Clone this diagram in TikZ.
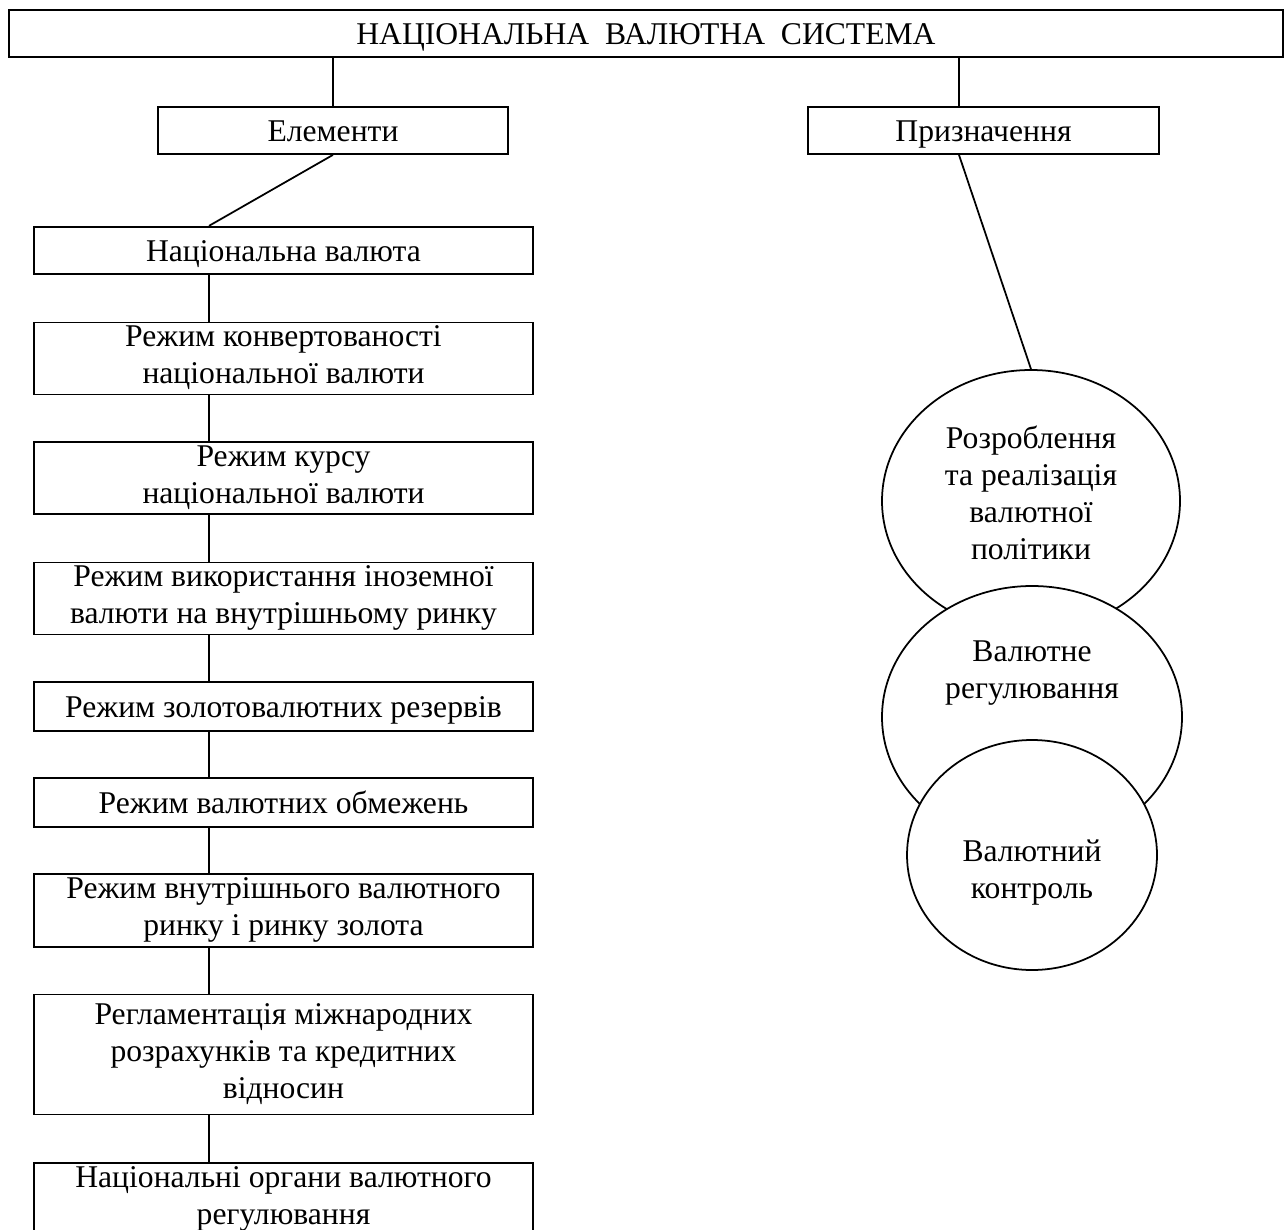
\documentclass[tikz,border=0pt]{standalone}
\usepackage{fontspec}
\setmainfont{Liberation Serif}
\usepackage{tikz}
\usetikzlibrary{shapes.geometric}
\newcommand{\topstrut}{\rule{0pt}{16.6pt}}
\newcommand{\botstrut}{\rule[-4.3pt]{0pt}{4.3pt}}

\begin{document}
\begin{tikzpicture}[line width=1pt, font=\fontsize{18}{21}\selectfont,
  head/.style={draw, rectangle, inner sep=0pt, minimum height=0.94cm,
    execute at begin node=\topstrut, execute at end node=\botstrut},
  box/.style={head, align=center, minimum width=9.98cm},
  oval/.style={draw, ellipse, fill=white, inner sep=0pt}]
\useasboundingbox (0,0) rectangle (25.72,-24.6);
\node[head, minimum width=25.48cm] (nvs) at (12.92,-0.67) {НАЦІОНАЛЬНА\ \ ВАЛЮТНА\ \ СИСТЕМА};
\node[head, minimum width=7cm] (elem) at (6.66,-2.61) {Елементи};
\node[head, minimum width=7.02cm] (pryzn) at (19.67,-2.61) {Призначення};
% елементи
\node[box, minimum height=0.95cm] (b1) at (5.67,-5.01) {Національна валюта};
\node[box, minimum height=1.44cm] (b2) at (5.67,-7.17) {Режим конвертованості\\національної валюти};
\node[box, minimum height=1.44cm] (b3) at (5.67,-9.56) {Режим курсу\\національної валюти};
\node[box, minimum height=1.44cm] (b4) at (5.67,-11.97) {Режим використання іноземної\\валюти на внутрішньому ринку};
\node[box, minimum height=0.97cm] (b5) at (5.67,-14.13) {Режим золотовалютних резервів};
\node[box, minimum height=0.97cm] (b6) at (5.67,-16.05) {Режим валютних обмежень};
\node[box, minimum height=1.45cm] (b7) at (5.67,-18.21) {Режим внутрішнього валютного\\ринку і ринку золота};
\node[box, minimum height=2.4cm] (b8) at (5.67,-21.09) {Регламентація міжнародних\\розрахунків та кредитних\\відносин};
\node[box, minimum height=1.45cm] (b9) at (5.67,-23.98) {Національні органи валютного\\регулювання};
% призначення
\node[oval, minimum width=5.96cm, minimum height=5.24cm] (polit) at (20.62,-10.02) {};
\node[align=center] (poltxt) at ([yshift=0.17cm]polit.center) {Розроблення\\та реалізація\\валютної\\політики};
\node[oval, minimum width=6cm, minimum height=5.24cm] (reg) at (20.64,-14.34) {};
\node[align=center] (regtxt) at ([yshift=0.87cm]reg.center) {Валютне\\регулювання};
\node[oval, minimum width=5cm, minimum height=4.6cm] (kontr) at (20.64,-17.1) {};
\node[align=center] (kontrtxt) at ([yshift=-0.35cm]kontr.center) {Валютний\\контроль};
\draw (nvs.south -| elem.north) -- (elem.north);
\draw ([xshift=-0.49cm]pryzn.north) -- ([xshift=-0.49cm]pryzn.north |- nvs.south);
\draw (elem.south) -- ([xshift=-1.49cm]b1.north);
\foreach \a/\b in {b1/b2,b2/b3,b3/b4,b4/b5,b5/b6,b6/b7,b7/b8,b8/b9}
  \draw ([xshift=-1.49cm]\a.south) -- ([xshift=-1.49cm]\b.north);
\draw ([xshift=-0.49cm]pryzn.south) -- (polit.north);
\end{tikzpicture}
\end{document}
